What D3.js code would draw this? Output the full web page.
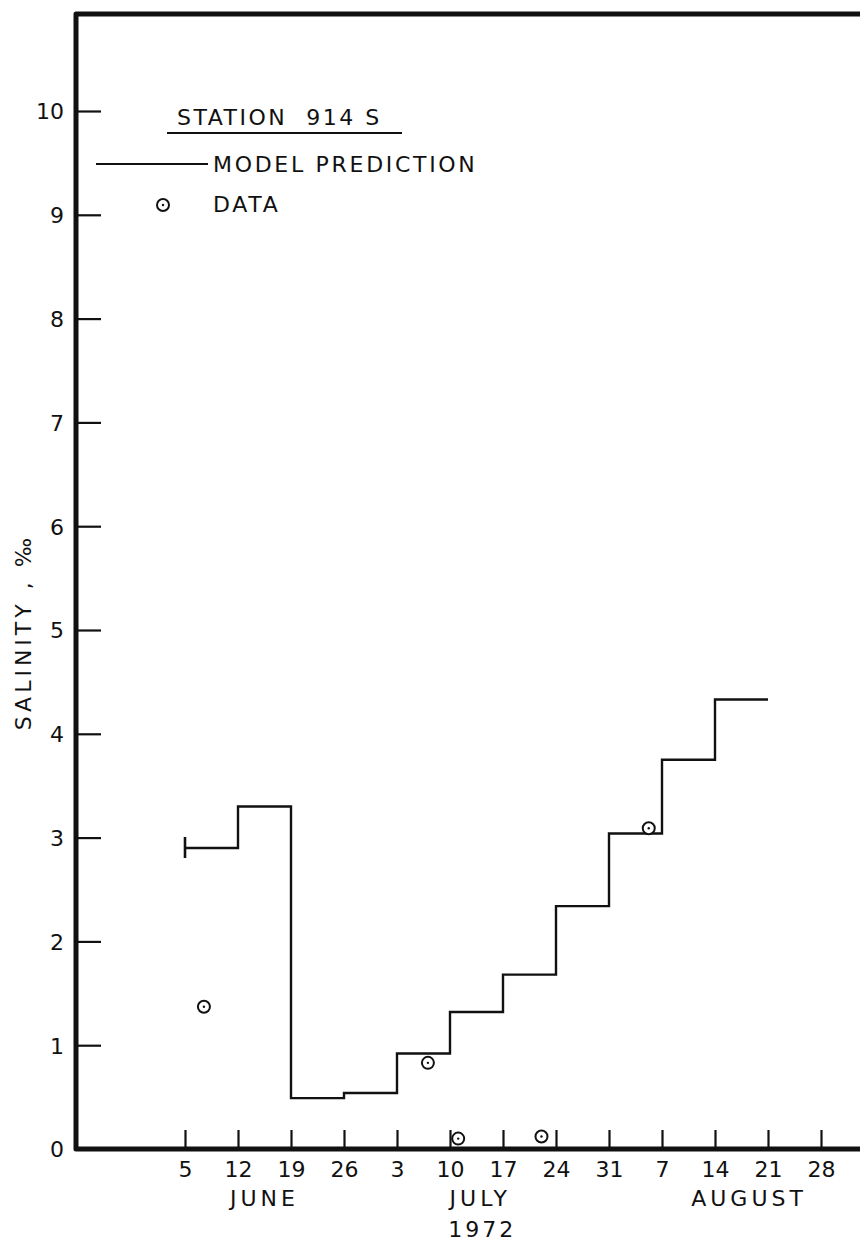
<!DOCTYPE html>
<html>
<head>
<meta charset="utf-8">
<script src="https://cdn.jsdelivr.net/npm/d3@7"></script>
<style>
  html, body { margin: 0; padding: 0; background: #fff; }
  svg text { font-family: "DejaVu Sans", sans-serif; fill: #111; }
</style>
</head>
<body>
<svg id="chart" width="860" height="1241"></svg>
<script>
// Weekly model prediction (value holds from each start date to the next)
const stepStarts = ["1972-06-05", "1972-06-12", "1972-06-19", "1972-06-26", "1972-07-03",
                    "1972-07-10", "1972-07-17", "1972-07-24", "1972-07-31", "1972-08-07",
                    "1972-08-14"];
const stepEnd = "1972-08-21";
const stepValues = [2.90, 3.30, 0.49, 0.54, 0.92, 1.32, 1.68, 2.34, 3.04, 3.75, 4.33];

// Observed salinity samples
const dataDates = ["1972-06-07T12:00", "1972-07-07T02:00", "1972-07-11T02:00",
                   "1972-07-22T02:00", "1972-08-05T06:00"];
const dataValues = [1.37, 0.83, 0.10, 0.12, 3.09];

// Axis ticks
const xTickDates = ["1972-06-05", "1972-06-12", "1972-06-19", "1972-06-26", "1972-07-03",
                    "1972-07-10", "1972-07-17", "1972-07-24", "1972-07-31", "1972-08-07",
                    "1972-08-14", "1972-08-21", "1972-08-28"];
const monthLabels = ["JUNE", "JULY", "AUGUST"];
const monthCenters = ["1972-06-15T12:00", "1972-07-14", "1972-08-18T12:00"];
const yearLabel = "1972";
const yTicks = [0, 1, 2, 3, 4, 5, 6, 7, 8, 9, 10];

const parse = s => new Date(s + (s.length === 10 ? "T00:00Z" : "Z"));

const svg = d3.select("#chart");

const x = d3.scaleUtc()
  .domain([parse("1972-06-05"), parse("1972-08-28")])
  .range([185, 821]);
const y = d3.scaleLinear().domain([0, 10]).range([1149, 111]);

const frameLeft = 76, frameTop = 14, frameRight = 860, frameBottom = y(0);

// Y axis ticks and labels
const yAxis = d3.axisLeft(y).tickValues(yTicks).tickSize(-25).tickPadding(12)
  .tickFormat(d3.format("d"));
const gy = svg.append("g").attr("transform", `translate(${frameLeft},0)`).call(yAxis);
gy.select(".domain").remove();
gy.selectAll(".tick line").attr("stroke", "#111").attr("stroke-width", 2.2);
gy.selectAll(".tick text").attr("font-size", 22).attr("fill", "#111")
  .attr("font-family", "DejaVu Sans, sans-serif").attr("dy", "0.36em");

// X axis ticks and labels
const xAxis = d3.axisBottom(x).tickValues(xTickDates.map(parse)).tickSize(-19).tickPadding(28)
  .tickFormat(d3.utcFormat("%-d"));
const gx = svg.append("g").attr("transform", `translate(0,${frameBottom})`).call(xAxis);
gx.select(".domain").remove();
gx.selectAll(".tick line").attr("stroke", "#111").attr("stroke-width", 2.2);
gx.selectAll(".tick text").attr("font-size", 22).attr("fill", "#111")
  .attr("font-family", "DejaVu Sans, sans-serif").attr("dy", "0");

// Month and year labels
svg.selectAll("text.month").data(monthLabels).join("text")
  .attr("class", "month")
  .attr("x", (d, i) => x(parse(monthCenters[i])))
  .attr("y", 1206)
  .attr("text-anchor", "middle")
  .attr("font-size", 22)
  .attr("letter-spacing", 4)
  .text(d => d);
svg.append("text")
  .attr("x", x(parse(monthCenters[1])) + 2)
  .attr("y", 1237)
  .attr("text-anchor", "middle")
  .attr("font-size", 22)
  .attr("letter-spacing", 3)
  .text(yearLabel);

// Frame: left axis, bottom axis, top border
svg.append("path")
  .attr("d", `M${frameRight},${frameTop}H${frameLeft}V${frameBottom}H${frameRight}`)
  .attr("fill", "none").attr("stroke", "#111").attr("stroke-width", 5)
  .attr("stroke-linejoin", "round");

// Y axis title
svg.append("text")
  .attr("transform", `translate(31,632) rotate(-90)`)
  .attr("text-anchor", "middle")
  .attr("font-size", 22)
  .attr("letter-spacing", 4)
  .text("SALINITY , ‰");

// Model prediction step line
const stepPts = stepStarts.map((d, i) => [parse(d), stepValues[i]]);
stepPts.push([parse(stepEnd), stepValues[stepValues.length - 1]]);
const line = d3.line().x(d => x(d[0])).y(d => y(d[1])).curve(d3.curveStepAfter);
svg.append("path").datum(stepPts)
  .attr("d", line)
  .attr("fill", "none").attr("stroke", "#111").attr("stroke-width", 2.4);
// start cap on the first step
const capX = x(parse(stepStarts[0])), capY = y(stepValues[0]);
svg.append("line").attr("x1", capX).attr("x2", capX).attr("y1", capY - 11).attr("y2", capY + 10)
  .attr("stroke", "#111").attr("stroke-width", 2.6);

// Data markers: circle with centre dot
function marker(g, cx, cy) {
  g.append("circle").attr("cx", cx).attr("cy", cy).attr("r", 6)
    .attr("fill", "#fff").attr("stroke", "#111").attr("stroke-width", 2);
  g.append("circle").attr("cx", cx).attr("cy", cy).attr("r", 1.2).attr("fill", "#111");
}
const gd = svg.append("g");
dataDates.forEach((d, i) => marker(gd, x(parse(d)), y(dataValues[i])));

// Legend
const lg = svg.append("g");
lg.append("text").attr("x", 177).attr("y", 125).attr("font-size", 22)
  .attr("letter-spacing", 2.5).attr("xml:space", "preserve").text("STATION  914 S");
lg.append("line").attr("x1", 167).attr("x2", 402).attr("y1", 133).attr("y2", 133)
  .attr("stroke", "#111").attr("stroke-width", 2);
lg.append("line").attr("x1", 96).attr("x2", 208).attr("y1", 164).attr("y2", 164)
  .attr("stroke", "#111").attr("stroke-width", 2);
lg.append("text").attr("x", 213).attr("y", 172).attr("font-size", 22)
  .attr("letter-spacing", 2.7).text("MODEL PREDICTION");
marker(lg, 163, 205);
lg.append("text").attr("x", 213).attr("y", 212).attr("font-size", 22)
  .attr("letter-spacing", 2.7).text("DATA");
</script>
</body>
</html>
